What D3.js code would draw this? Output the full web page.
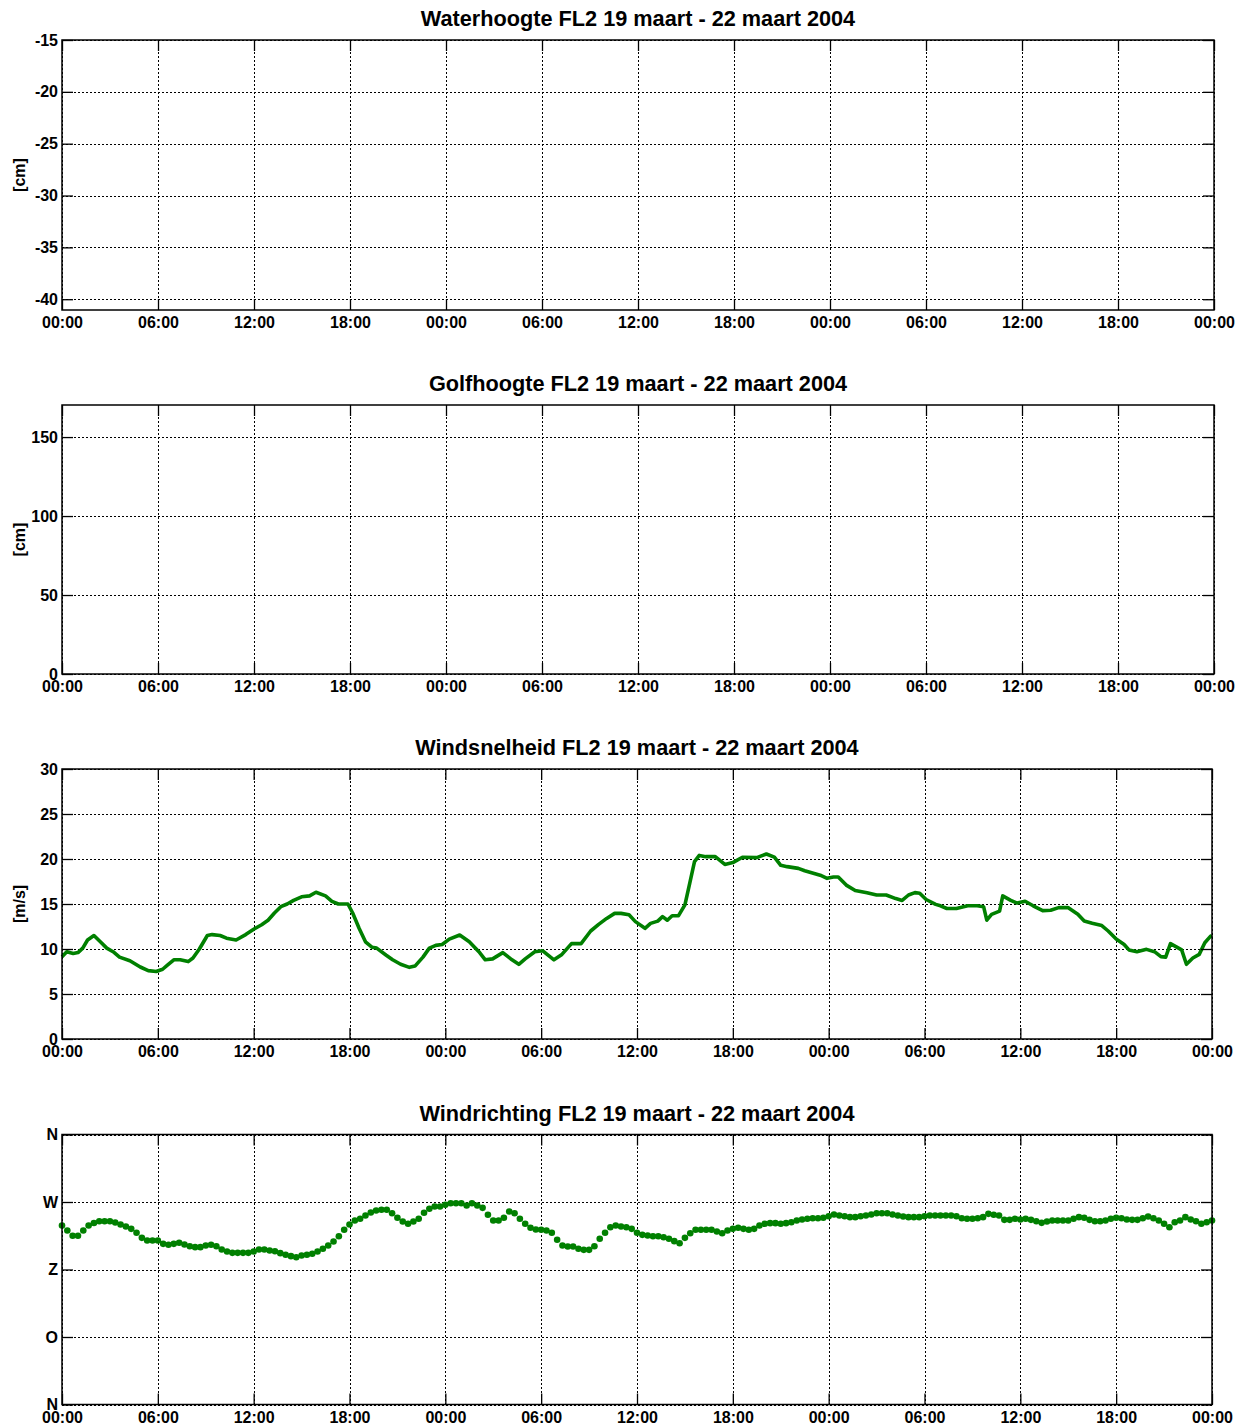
<!DOCTYPE html>
<html>
<head>
<meta charset="utf-8">
<script src="https://cdn.jsdelivr.net/npm/d3@7"></script>
<style>
  body { margin: 0; background: #fff; }
  svg { display: block; }
  text { font-family: "Liberation Sans", Arial, Helvetica, sans-serif; font-weight: bold; fill: #000; }
</style>
</head>
<body>
<svg id="chart" width="1247" height="1427"></svg>
<script>
// ---- tick labels ----
const timeTickHours = [0, 6, 12, 18, 24, 30, 36, 42, 48, 54, 60, 66, 72];
const timeTickLabels = ["00:00","06:00","12:00","18:00","00:00","06:00","12:00","18:00","00:00","06:00","12:00","18:00","00:00"];
const waterTicks = [-40, -35, -30, -25, -20, -15];
const waveTicks = [0, 50, 100, 150];
const speedTicks = [0, 5, 10, 15, 20, 25, 30];
const dirTicks = [0, 90, 180, 270, 360];
const dirTickLabels = ["N", "O", "Z", "W", "N"];

// ---- titles ----
const titles = [
  "Waterhoogte FL2 19 maart - 22 maart 2004",
  "Golfhoogte FL2 19 maart - 22 maart 2004",
  "Windsnelheid FL2 19 maart - 22 maart 2004",
  "Windrichting FL2 19 maart - 22 maart 2004"
];

// ---- series (empty panels have no data) ----
const waterHours = [];
const waterValues = [];
const waveHours = [];
const waveValues = [];

// wind speed [m/s], hours after 19 maart 00:00
const speedHours = [0,0.3,0.7,1.0,1.3,1.6,2.0,2.4,2.8,3.2,3.6,4.25,4.9,5.4,5.9,6.3,6.6,7.0,7.4,7.9,8.2,8.6,9.1,9.4,9.9,10.3,10.9,11.5,12.0,12.5,12.9,13.3,13.7,14.1,14.5,15.0,15.5,15.9,16.5,16.9,17.3,17.9,18.2,18.6,19.0,19.4,19.7,20.3,20.7,21.2,21.75,22.1,22.6,23.0,23.4,23.8,24.25,24.9,25.5,26.1,26.5,26.96,27.6,28.1,28.6,29.0,29.6,30.1,30.8,31.3,31.9,32.5,33.1,33.6,34.1,34.6,35.0,35.5,35.9,36.5,36.85,37.3,37.6,37.9,38.2,38.6,39.0,39.3,39.6,39.9,40.3,40.9,41.5,42.0,42.6,43.5,44.1,44.6,45.0,45.4,46.1,46.5,47.47,47.9,48.3,48.6,49.1,49.66,50.4,51.0,51.6,52.2,52.6,53.0,53.4,53.7,54.1,54.7,55.0,55.4,56.0,56.7,57.3,57.7,57.9,58.2,58.7,58.9,59.4,59.8,60.3,60.8,61.4,61.9,62.4,62.98,63.6,64.0,64.5,65.1,65.5,66.0,66.5,66.8,67.3,67.9,68.4,68.8,69.1,69.4,70.1,70.4,70.8,71.2,71.55,71.9,72];
const speedValues = [9.15,9.7,9.5,9.6,10.1,11.0,11.5,10.8,10.1,9.7,9.1,8.7,8.0,7.6,7.5,7.75,8.2,8.8,8.8,8.6,9.0,10.0,11.5,11.6,11.5,11.2,11.0,11.6,12.2,12.7,13.2,14.0,14.7,15.0,15.4,15.8,15.9,16.3,15.9,15.3,15.0,15.0,14.0,12.3,10.8,10.2,10.1,9.3,8.8,8.3,7.96,8.1,9.1,10.1,10.4,10.5,11.1,11.56,10.8,9.7,8.8,8.9,9.6,8.9,8.3,8.9,9.7,9.8,8.8,9.4,10.6,10.6,12.0,12.74,13.4,13.96,13.96,13.8,13.04,12.3,12.85,13.1,13.6,13.2,13.7,13.7,14.9,17.3,19.7,20.4,20.26,20.26,19.4,19.6,20.2,20.15,20.56,20.2,19.3,19.15,18.96,18.7,18.2,17.85,18.0,18.0,17.1,16.5,16.26,16.0,16.0,15.6,15.4,16.0,16.26,16.2,15.5,14.96,14.8,14.5,14.5,14.8,14.8,14.7,13.2,13.85,14.2,15.9,15.4,15.1,15.3,14.8,14.26,14.3,14.6,14.6,13.85,13.1,12.85,12.6,12.0,11.1,10.5,9.9,9.7,9.96,9.7,9.15,9.1,10.6,9.9,8.3,9.0,9.4,10.7,11.4,11.5];

// wind direction [degrees], one reading every 20 minutes from 19 maart 00:00
const dirStepHours = 1 / 3;
const dirValues = [238.7,232,225,225,232,238.7,242,244.4,244.4,244.4,242.7,240,237.3,234.2,229,222.2,218.7,218.7,218.7,214.2,212.9,214.2,215.6,213.3,211.1,209.8,209.8,212,212.9,211.1,206.7,204,202.2,202.2,202.2,202.2,204,206.7,206.7,205.3,204.4,201.8,199.6,197.8,196.4,198.7,199.6,200.9,204,207.6,212,217.3,224.4,232.9,240,245.3,247.6,252,256,258.7,259.6,259.6,255.1,248.9,244,240.9,244,247.6,
255.6,260.9,264,264,266.2,268.4,268.4,268.4,265.3,268.4,265.3,262.2,252.9,245.3,245.3,248.9,257.3,255.1,247.6,240.9,235.6,233.3,232.9,232,228.9,219.6,212,210.7,210.7,207.6,206.2,206.2,211.1,220.9,228.9,236.4,238.7,237.3,236.4,234.2,228.9,226.2,225.3,224.4,224.4,223.1,220.9,217.8,215.1,222.2,228.4,232.9,232.9,232.9,232.9,230.7,228.4,232,234.2,235.6,234.2,232.9,234.2,238.7,240.9,241.8,241.8,240.9,241.8,243.1,245.3,246.7,247.6,248.4,248.4,
248.9,251.1,253.3,252,251.1,249.8,249.8,251.1,252,253.3,255.1,255.1,255.1,253.3,252,250.7,249.8,249.8,249.8,251.1,252,252,252,252,252,251.1,248.4,247.6,247.6,248.4,249.8,254.2,252.9,252,246.2,246.2,247.6,246.7,247.6,246.2,244.4,242.2,244,245.3,245.3,245.3,245.3,247.6,249.8,248.9,246.2,244.4,244.4,245.3,247.6,248.9,248.4,246.7,246.2,246.2,248.4,250.7,248.4,245.3,240.9,236.4,243.1,245.3,249.8,246.7,244.4,240.9,243.1,245.3];

const green = "#008000";
const svg = d3.select("#chart");

const panels = [
  { title: titles[0], top: 40,   bottom: 310,    left: 62, right: 1214, domain: [-41.04, -15], ticks: waterTicks, labels: null, ylabel: "[cm]",  hours: waterHours, values: waterValues, kind: "line" },
  { title: titles[1], top: 405,  bottom: 674,    left: 62, right: 1214, domain: [0, 170.3],    ticks: waveTicks,  labels: null, ylabel: "[cm]",  hours: waveHours,  values: waveValues,  kind: "line" },
  { title: titles[2], top: 769,  bottom: 1039,   left: 62, right: 1212, domain: [0, 30],       ticks: speedTicks, labels: null, ylabel: "[m/s]", hours: speedHours, values: speedValues, kind: "line" },
  { title: titles[3], top: 1134.5, bottom: 1404.5, left: 62, right: 1212, domain: [0, 360],    ticks: dirTicks,   labels: dirTickLabels, ylabel: null, hours: dirValues.map((_, i) => i * dirStepHours), values: dirValues, kind: "dots" }
];

panels.forEach(p => {
  const x = d3.scaleLinear().domain([0, 72]).range([p.left, p.right]);
  const y = d3.scaleLinear().domain(p.domain).range([p.bottom, p.top]);
  const g = svg.append("g");
  const w = p.right - p.left, h = p.bottom - p.top;

  // grid
  const grid = g.append("g").attr("stroke", "#000").attr("stroke-width", 1).attr("stroke-dasharray", "2,2").attr("shape-rendering", "crispEdges");
  grid.selectAll(".vg").data(timeTickHours).join("line")
    .attr("x1", d => Math.round(x(d)) + 0.5).attr("x2", d => Math.round(x(d)) + 0.5)
    .attr("y1", p.top).attr("y2", p.bottom);
  grid.selectAll(".hg").data(p.ticks).join("line")
    .attr("y1", d => Math.round(y(d)) + 0.5).attr("y2", d => Math.round(y(d)) + 0.5)
    .attr("x1", p.left).attr("x2", p.right);

  // data
  if (p.kind === "line" && p.values.length) {
    const pts = p.hours.map((t, i) => [t, p.values[i]]);
    g.append("path").datum(pts)
      .attr("fill", "none").attr("stroke", green).attr("stroke-width", 3.6)
      .attr("stroke-linejoin", "round")
      .attr("d", d3.line().x(d => x(d[0])).y(d => y(d[1])));
  } else if (p.kind === "dots") {
    g.append("g").selectAll("circle").data(p.hours.map((t, i) => [t, p.values[i]])).join("circle")
      .attr("cx", d => x(d[0])).attr("cy", d => y(d[1])).attr("r", 3.3).attr("fill", green);
  }

  // axes with inward ticks on all sides
  const tl = 11;
  const fmtY = p.labels ? (d => p.labels[p.ticks.indexOf(d)]) : (d => d);
  const axL = d3.axisLeft(y).tickValues(p.ticks).tickSizeInner(-tl).tickSizeOuter(0).tickPadding(4).tickFormat(fmtY);
  const axR = d3.axisRight(y).tickValues(p.ticks).tickSizeInner(-tl).tickSizeOuter(0).tickFormat("");
  const axB = d3.axisBottom(x).tickValues(timeTickHours).tickSizeInner(-tl).tickSizeOuter(0).tickPadding(7).tickFormat((d, i) => timeTickLabels[i]);
  const axT = d3.axisTop(x).tickValues(timeTickHours).tickSizeInner(-tl).tickSizeOuter(0).tickFormat("");

  const style = sel => {
    sel.select(".domain").remove();
    sel.selectAll("line").attr("stroke", "#000").attr("stroke-width", 1.3);
    sel.selectAll("text").attr("font-size", 16).attr("font-weight", "bold").attr("fill", "#000")
      .style("font-family", '"Liberation Sans", Arial, sans-serif');
  };
  g.append("g").attr("transform", `translate(${p.left},0)`).call(axL).call(style);
  g.append("g").attr("transform", `translate(${p.right},0)`).call(axR).call(style);
  g.append("g").attr("transform", `translate(0,${p.bottom})`).call(axB).call(style);
  g.append("g").attr("transform", `translate(0,${p.top})`).call(axT).call(style);

  // box
  g.append("rect").attr("x", p.left).attr("y", p.top).attr("width", w).attr("height", h)
    .attr("fill", "none").attr("stroke", "#000").attr("stroke-width", 1.5);

  // title
  g.append("text").attr("x", (p.left + p.right) / 2).attr("y", p.top - 14)
    .attr("text-anchor", "middle").attr("font-size", 21.7).text(p.title);

  // y label
  if (p.ylabel) {
    g.append("text").attr("transform", `translate(25,${(p.top + p.bottom) / 2}) rotate(-90)`)
      .attr("text-anchor", "middle").attr("font-size", 16).text(p.ylabel);
  }
});
</script>
</body>
</html>
